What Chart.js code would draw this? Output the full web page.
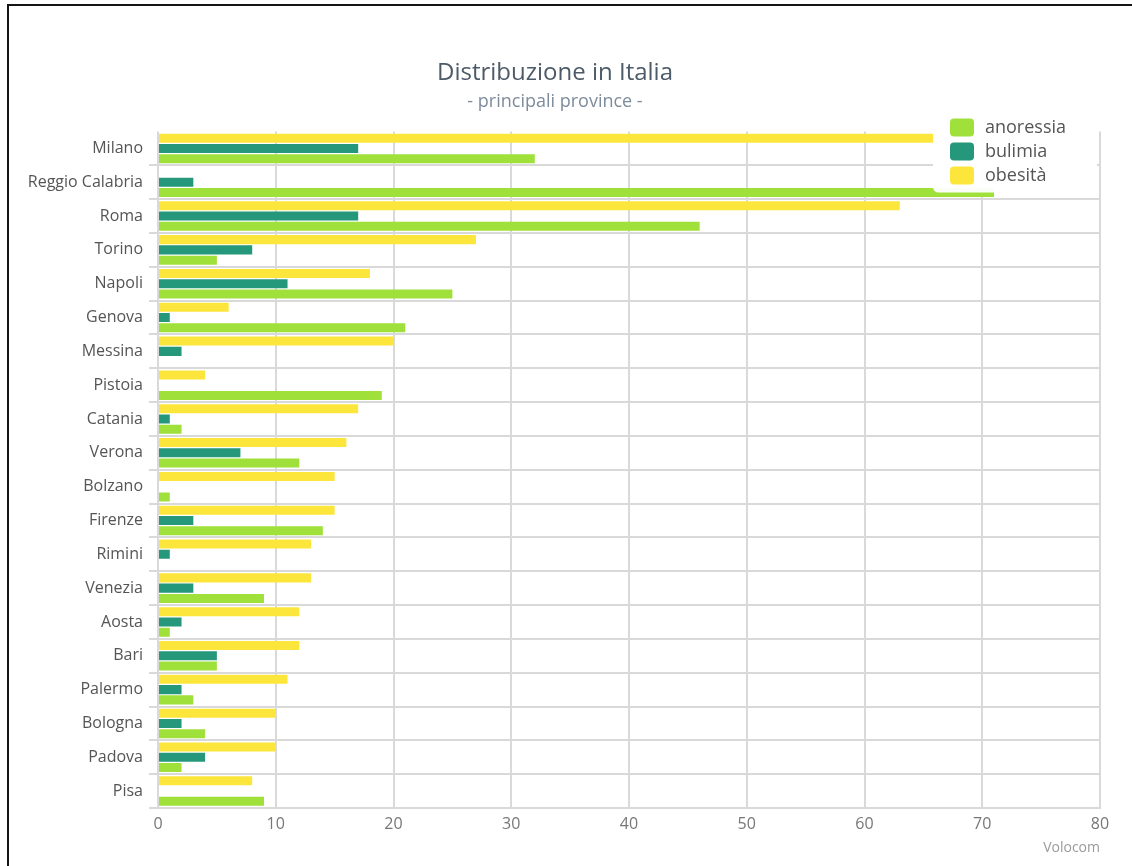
<!DOCTYPE html>
<html>
<head>
<meta charset="utf-8">
<script src="https://cdn.jsdelivr.net/npm/chart.js@4.4.1/dist/chart.umd.min.js"></script>
<style>
  html, body { margin: 0; padding: 0; background: #ffffff; overflow: hidden; }
  #wrap { position: relative; width: 1132px; height: 866px; }
  #frame { position: absolute; left: 7px; top: 4px; right: -10px; bottom: -10px;
           border-top: 2px solid #151515; border-left: 2px solid #151515; pointer-events: none; }
  canvas { position: absolute; left: 0; top: 0; }
</style>
</head>
<body>
<div id="wrap">
  <canvas id="chart" width="1132" height="866"></canvas>
  <div id="frame"></div>
</div>
<script>
// ---- data ----
const categories = ["Milano", "Reggio Calabria", "Roma", "Torino", "Napoli", "Genova", "Messina",
  "Pistoia", "Catania", "Verona", "Bolzano", "Firenze", "Rimini", "Venezia", "Aosta", "Bari",
  "Palermo", "Bologna", "Padova", "Pisa"];
const obesita   = [66, 0, 63, 27, 18, 6, 20, 4, 17, 16, 15, 15, 13, 13, 12, 12, 11, 10, 10, 8];
const bulimia   = [17, 3, 17, 8, 11, 1, 2, 0, 1, 7, 0, 3, 1, 3, 2, 5, 2, 2, 4, 0];
const anoressia = [32, 71, 46, 5, 25, 21, 0, 19, 2, 12, 1, 14, 0, 9, 1, 5, 3, 4, 2, 9];
const seriesNames = ["obesità", "bulimia", "anoressia"];
const xMin = 0, xMax = 80, xStep = 10;
const titleText = "Distribuzione in Italia";
const subtitleText = "- principali province -";
const creditText = "Volocom";

const colors = { "obesità": "#fde63c", "bulimia": "#25977b", "anoressia": "#a0e03a" };
const GRID = "#d9d9d9";

Chart.defaults.font.family = '"Open Sans", "Noto Sans", sans-serif';

function roundRect(ctx, x, y, w, h, r) {
  ctx.beginPath();
  ctx.moveTo(x + r, y);
  ctx.lineTo(x + w - r, y);
  ctx.quadraticCurveTo(x + w, y, x + w, y + r);
  ctx.lineTo(x + w, y + h - r);
  ctx.quadraticCurveTo(x + w, y + h, x + w - r, y + h);
  ctx.lineTo(x + r, y + h);
  ctx.quadraticCurveTo(x, y + h, x, y + h - r);
  ctx.lineTo(x, y + r);
  ctx.quadraticCurveTo(x, y, x + r, y);
  ctx.closePath();
}

// custom legend (reversed order, inside plot top-right) + credit text
const overlayPlugin = {
  id: 'overlay',
  afterDraw(chart) {
    const ctx = chart.ctx;
    const ca = chart.chartArea;
    ctx.save();
    const boxX = ca.right - 167, boxY = ca.top - 21, boxW = 164, boxH = 82;
    ctx.fillStyle = 'rgba(255,255,255,0.96)';
    roundRect(ctx, boxX, boxY, boxW, boxH, 6);
    ctx.fill();
    const order = [2, 1, 0];
    order.forEach((di, k) => {
      const ds = chart.data.datasets[di];
      const cy = boxY + 17 + k * 24;
      ctx.fillStyle = ds.backgroundColor;
      roundRect(ctx, boxX + 17, cy - 9, 24, 18, 4);
      ctx.fill();
      ctx.fillStyle = '#555555';
      ctx.font = '18px "Open Sans", sans-serif';
      ctx.textAlign = 'left';
      ctx.textBaseline = 'middle';
      ctx.fillText(ds.label, boxX + 52, cy);
    });
    ctx.fillStyle = '#9a9a9a';
    ctx.font = '14px "Open Sans", sans-serif';
    ctx.textAlign = 'right';
    ctx.textBaseline = 'middle';
    ctx.fillText(creditText, ca.right, ca.bottom + 40);
    ctx.restore();
  }
};

const seriesData = { "obesità": obesita, "bulimia": bulimia, "anoressia": anoressia };

new Chart(document.getElementById('chart'), {
  type: 'bar',
  data: {
    labels: categories,
    datasets: seriesNames.map(n => ({
      label: n,
      data: seriesData[n],
      backgroundColor: colors[n],
      borderWidth: 0,
      categoryPercentage: 0.91,
      barPercentage: 0.88
    }))
  },
  options: {
    indexAxis: 'y',
    responsive: false,
    animation: false,
    layout: { padding: { left: 10, right: 32, top: 0, bottom: 28 } },
    plugins: {
      legend: { display: false },
      tooltip: { enabled: false },
      title: {
        display: true,
        text: titleText,
        color: '#4d5a67',
        font: { size: 24, weight: 'normal', lineHeight: 1 },
        padding: { top: 61, bottom: 8 }
      },
      subtitle: {
        display: true,
        text: subtitleText,
        color: '#7d8c9b',
        font: { size: 18, weight: 'normal', lineHeight: 1 },
        padding: { top: 0, bottom: 20.5 }
      }
    },
    scales: {
      x: {
        type: 'linear',
        min: xMin, max: xMax,
        ticks: { stepSize: xStep, color: '#777777', font: { size: 16 }, padding: 7 },
        grid: { color: GRID, lineWidth: 2, drawTicks: false },
        border: { display: true, color: GRID, width: 2 },
        afterFit(scale) { scale.height = 30; }
      },
      y: {
        ticks: { color: '#555555', font: { size: 16 }, padding: 6 },
        grid: {
          color: c => (c.index === 0 ? 'rgba(0,0,0,0)' : GRID),
          lineWidth: 2,
          tickLength: 9
        },
        border: { display: false },
        afterFit(scale) { scale.width = 148; }
      }
    }
  },
  plugins: [overlayPlugin]
});
</script>
</body>
</html>
